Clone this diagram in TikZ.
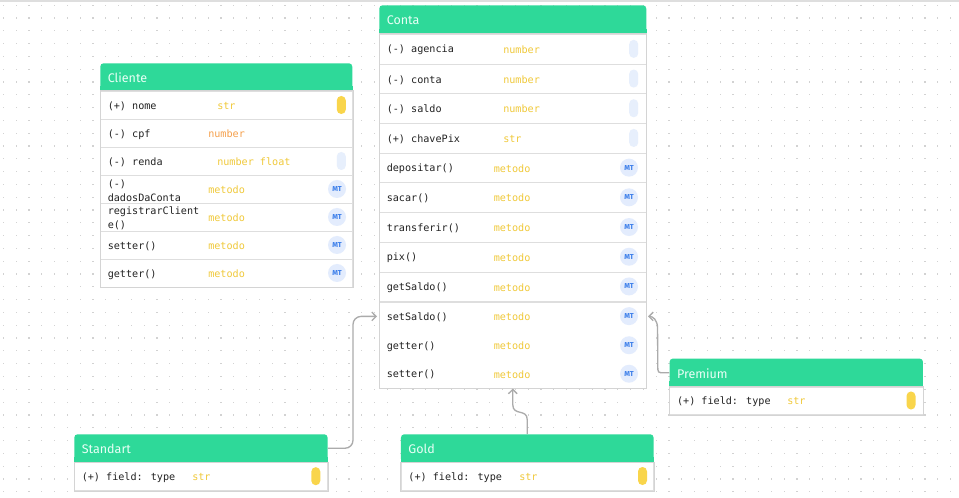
\documentclass[tikz,border=0pt]{standalone}
\usepackage{fontspec}
\setmainfont{Fira Sans}
\newfontfamily\monof{DejaVu Sans Mono}
\usetikzlibrary{arrows.meta,calc}
\definecolor{hdrgreen}{HTML}{2ED999}
\definecolor{hdrtext}{HTML}{E9FFF6}
\definecolor{sepgray}{HTML}{DEDEDE}
\definecolor{bordgray}{HTML}{D4D4D4}
\definecolor{ytxt}{HTML}{F0C93A}
\definecolor{otxt}{HTML}{F5A04C}
\definecolor{ypill}{HTML}{F9D54B}
\definecolor{bpill}{HTML}{E7EFFC}
\definecolor{mtbg}{HTML}{E3ECFD}
\definecolor{mtfg}{HTML}{3B7EEA}
\definecolor{dotc}{HTML}{D2D2D2}
\definecolor{conngray}{HTML}{ABABAB}
\definecolor{labtxt}{HTML}{222222}

\newcommand\clshead[6]{%
  \node[hdrbox, minimum width=#4*0.75pt, minimum height=#5*0.75pt, anchor=north west] (#1) at (#2,#3) {};
  \fill[hdrgreen] ($(#1.south west)+(0,-6)$) rectangle (#1.south east);
  \node[hdrtxt, anchor=west] (#1-t) at ($(#1.west)+(7.5,0.5)$) {#6};
}
\newcommand\clsrow[9]{%
  \node[#9, minimum width=#4*0.75pt, minimum height=#5*0.75pt, anchor=north west] (#1) at (#2,#3) {};
  \node[lbltxt, anchor=west] (#1-l) at ($(#1.west)+(7.5,0.8)$) {#6};
  \node[lbltxt, anchor=west] (#1-t) at (#7,{#3+#5/2+0.8}) {#8};
}
\newcommand\pillbadge[4]{\node[pillb, fill=#4] (#1) at (#2,#3) {};}
\newcommand\mtbadge[3]{\node[mtb] (#1) at (#2,#3) {MT};}

\begin{document}
\begin{tikzpicture}[x=0.75pt,y=-0.75pt,
  hdrbox/.style={fill=hdrgreen, rounded corners=2.5pt, inner sep=0pt, draw=none},
  hdrtxt/.style={inner sep=0pt, text=hdrtext, font=\fontsize{9.4}{11}\selectfont},
  rowbox/.style={draw=sepgray, fill=white, inner sep=0pt, line width=0.75pt},
  rowplain/.style={draw=none, fill=white, inner sep=0pt},
  lbltxt/.style={inner sep=0pt, align=left, text=labtxt, font=\monof\fontsize{7.6}{10.5}\selectfont},
  pillb/.style={draw=none, rounded corners=3.3pt, minimum width=9*0.75pt, minimum height=18*0.75pt, inner sep=0pt},
  mtb/.style={circle, fill=mtbg, minimum size=18*0.75pt, inner sep=0pt, text=mtfg, font=\fontsize{5.4}{6}\selectfont\bfseries},
  outerb/.style={draw=bordgray, line width=0.75pt},
  conn/.style={draw=conngray, line width=1pt, -{Straight Barb[length=3.2pt,width=6.5pt]}},
]
\useasboundingbox (0,0) rectangle (959,498);
\fill[white] (0,0) rectangle (959,498);
\draw[draw=sepgray, line width=1.5pt] (0,1) -- (959,1);
\foreach \i in {0,...,74}{
  \foreach \j in {0,...,38}{
    \fill[dotc] ({3.3+12.8*\i-0.6},{5.3+12.8*\j-0.6}) rectangle ++(1.2,1.2);
  }
}

% ---------------- Cliente ----------------
\clshead{clh}{100}{63}{252}{28}{Cliente}
\clsrow{cl1}{100}{91}{252}{28}{(+) nome}{217}{\color{ytxt}str}{rowbox}
\clsrow{cl2}{100}{119}{252}{28}{(-) cpf}{208}{\color{otxt}number}{rowbox}
\clsrow{cl3}{100}{147}{252}{28}{(-) renda}{217}{\color{ytxt}number float}{rowbox}
\clsrow{cl4}{100}{175}{252}{28}{(-)\\dadosDaConta}{208}{\color{ytxt}metodo}{rowbox}
\clsrow{cl5}{100}{203}{252}{28}{registrarClient\\e()}{208}{\color{ytxt}metodo}{rowbox}
\clsrow{cl6}{100}{231}{252}{28}{setter()}{208}{\color{ytxt}metodo}{rowbox}
\clsrow{cl7}{100}{259}{252}{28}{getter()}{208}{\color{ytxt}metodo}{rowbox}
\draw[outerb] (cl1.north west) rectangle (cl7.south east);
\pillbadge{cl1b}{341.3}{105}{ypill}
\pillbadge{cl3b}{341.3}{161}{bpill}
\mtbadge{cl4b}{337}{189}
\mtbadge{cl5b}{337}{217}
\mtbadge{cl6b}{337}{245}
\mtbadge{cl7b}{337}{273}

% ---------------- Conta ----------------
\clshead{coh}{379}{5}{267}{29}{Conta}
\clsrow{co1}{379}{34}{267}{29.7}{(-) agencia}{503}{\color{ytxt}number}{rowbox}
\clsrow{co2}{379}{63.7}{267}{29.7}{(-) conta}{503}{\color{ytxt}number}{rowbox}
\clsrow{co3}{379}{93.4}{267}{29.7}{(-) saldo}{503}{\color{ytxt}number}{rowbox}
\clsrow{co4}{379}{123.1}{267}{29.7}{(+) chavePix}{503}{\color{ytxt}str}{rowbox}
\clsrow{co5}{379}{152.8}{267}{29.7}{depositar()}{493.5}{\color{ytxt}metodo}{rowbox}
\clsrow{co6}{379}{182.5}{267}{29.7}{sacar()}{493.5}{\color{ytxt}metodo}{rowbox}
\clsrow{co7}{379}{212.2}{267}{29.7}{transferir()}{493.5}{\color{ytxt}metodo}{rowbox}
\clsrow{co8}{379}{241.9}{267}{29.7}{pix()}{493.5}{\color{ytxt}metodo}{rowbox}
\clsrow{co9}{379}{271.6}{267}{29.7}{getSaldo()}{493.5}{\color{ytxt}metodo}{rowbox}
\clsrow{co10}{379}{301.3}{267}{29.7}{setSaldo()}{493.5}{\color{ytxt}metodo}{rowplain}
\clsrow{co11}{379}{331}{267}{28.5}{getter()}{493.5}{\color{ytxt}metodo}{rowplain}
\clsrow{co12}{379}{359.5}{267}{28.5}{setter()}{493.5}{\color{ytxt}metodo}{rowplain}
\draw[draw=sepgray, line width=0.75pt] (co9.south west) -- (co9.south east);
\draw[outerb] (co1.north west) rectangle (co12.south east);
\pillbadge{co1b}{633.7}{48.85}{bpill}
\pillbadge{co2b}{633.7}{78.55}{bpill}
\pillbadge{co3b}{633.7}{108.25}{bpill}
\pillbadge{co4b}{633.7}{137.95}{bpill}
\mtbadge{co5b}{629}{167.65}
\mtbadge{co6b}{629}{197.35}
\mtbadge{co7b}{629}{227.05}
\mtbadge{co8b}{629}{256.75}
\mtbadge{co9b}{629}{286.45}
\mtbadge{co10b}{629}{316.15}
\mtbadge{co11b}{629}{345.25}
\mtbadge{co12b}{629}{373.75}

% ---------------- Premium ----------------
\clshead{prh}{669.3}{358.3}{253.4}{28.4}{Premium}
\clsrow{pr1}{669.3}{386.7}{253.4}{27.6}{(+) field: type}{787}{\color{ytxt}str}{rowbox}
\draw[outerb] (pr1.north west) rectangle (pr1.south east);
\pillbadge{pr1b}{911}{400.5}{ypill}

% ---------------- Standart ----------------
\clshead{sth}{74}{434}{253.3}{28}{Standart}
\clsrow{st1}{74}{462}{253.3}{28}{(+) field: type}{192}{\color{ytxt}str}{rowbox}
\draw[outerb] (st1.north west) rectangle (st1.south east);
\pillbadge{st1b}{315.8}{476.2}{ypill}

% ---------------- Gold ----------------
\clshead{gdh}{400.7}{434}{252.6}{28}{Gold}
\clsrow{gd1}{400.7}{462}{252.6}{28}{(+) field: type}{519}{\color{ytxt}str}{rowbox}
\draw[outerb] (gd1.north west) rectangle (gd1.south east);
\pillbadge{gd1b}{642.5}{476}{ypill}

% ---------------- connectors ----------------
\draw[conn, rounded corners=6pt, shorten >=1.5pt] (sth.east) -| ($(co10.west)+(-26,0)$) -- (co10.west);
\draw[conn] (gdh.north) -- ($(gdh.north)+(0,-14)$)
   .. controls ($(gdh.north)+(0,-26)$) and ($(co12.south)+(0,28)$) .. ($(co12.south)+(0,16)$) -- (co12.south);
\draw[conn] (prh.west) -- ($(prh.west)+(-5,0)$)
   .. controls ($(prh.west)+(-11.5,0)$) .. ($(prh.west)+(-11.5,-7)$)
   -- ($(co10.east)+(11,12)$)
   .. controls ($(co10.east)+(11,3)$) and ($(co10.east)+(6,0)$) .. ($(co10.east)+(1.5,0)$);
\end{tikzpicture}
\end{document}
